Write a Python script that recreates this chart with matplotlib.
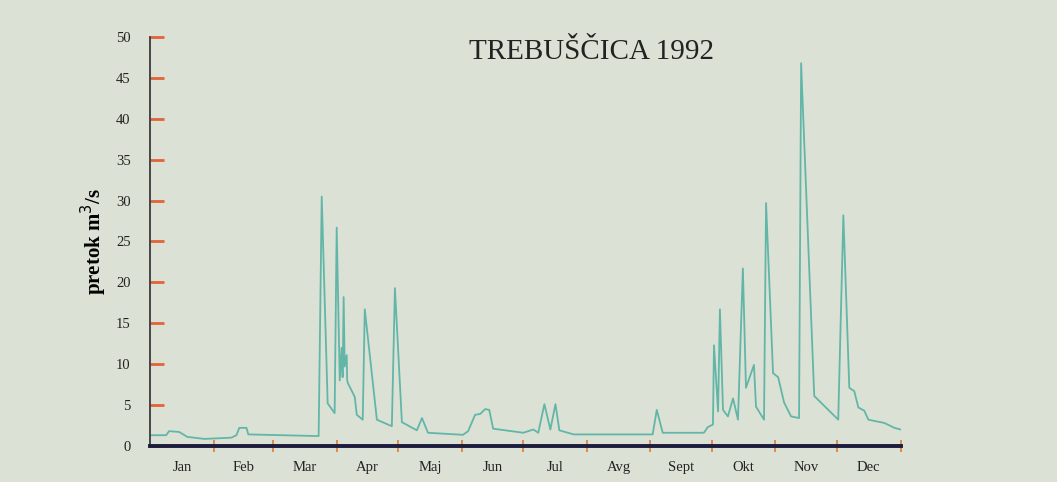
import matplotlib
matplotlib.use('Agg')
import matplotlib.pyplot as plt
import numpy as np

# daily flow (day of year, m3/s)
days = [0, 7.8, 9.3, 14.2, 18.1, 26.4, 39.6, 42.1, 43.5, 47.0, 47.9, 81.2, 82.2,
        83.7, 86.6, 90.0, 91.0, 92.5, 93.4, 93.9, 94.4, 94.9, 95.9, 96.1, 96.4,
        99.8, 100.8, 103.7, 104.7, 110.6, 117.9, 119.4, 122.8, 130.1, 132.6, 135.5,
        152.6, 155.1, 158.5, 161.0, 163.4, 165.4, 167.3, 182.0, 186.9, 189.3, 192.3,
        195.2, 197.7, 199.6, 206.5, 245.1, 247.1, 250.0, 270.1, 272.0, 274.5, 275.0,
        277.0, 277.9, 279.4, 281.8, 284.3, 286.7, 289.1, 290.6, 294.5, 295.5, 299.4,
        300.4, 303.8, 306.3, 309.2, 312.6, 316.5, 317.5, 323.9, 335.6, 338.1, 341.0,
        343.4, 345.4, 348.3, 350.3, 358.1, 363.0, 366.0]
flow = [1.3, 1.3, 1.8, 1.7, 1.1, 0.85, 1.0, 1.3, 2.2, 2.2, 1.4, 1.2, 1.2,
        30.5, 5.2, 4.0, 26.7, 8.0, 12.0, 8.4, 18.2, 9.7, 11.1, 8.1, 7.7,
        6.0, 3.8, 3.2, 16.7, 3.2, 2.4, 19.3, 2.9, 1.9, 3.4, 1.6,
        1.35, 1.8, 3.8, 3.9, 4.5, 4.4, 2.1, 1.6, 2.0, 1.6, 5.1,
        2.0, 5.1, 1.9, 1.4, 1.4, 4.4, 1.6, 1.6, 2.3, 2.6, 12.3,
        4.2, 16.7, 4.4, 3.6, 5.8, 3.2, 21.7, 7.1, 9.9, 4.8, 3.2,
        29.7, 8.9, 8.4, 5.3, 3.6, 3.4, 46.8, 6.1, 3.2, 28.2, 7.1,
        6.7, 4.7, 4.3, 3.2, 2.8, 2.2, 2.0]

months = ["Jan", "Feb", "Mar", "Apr", "Maj", "Jun", "Jul", "Avg", "Sept", "Okt", "Nov", "Dec"]
month_len = [31, 29, 31, 30, 31, 30, 31, 31, 30, 31, 30, 31]

month_end = np.cumsum(month_len)
month_mid = month_end - np.array(month_len) / 2

plt.rcParams['font.family'] = ['Liberation Serif', 'DejaVu Serif']

fig = plt.figure(figsize=(10.57, 4.82), dpi=100, facecolor='#dce1d5')
ax = fig.add_axes([0.142, 0.075, 0.710, 0.848])
ax.set_facecolor('none')

ax.plot(days, flow, color='#62b6a8', lw=1.3)

ax.set_xlim(0, 366)
ax.set_ylim(0, 50)

for s in ['top', 'right']:
    ax.spines[s].set_visible(False)
ax.spines['left'].set_color('#3a3a3a')
ax.spines['left'].set_linewidth(1.3)
ax.spines['bottom'].set_color('#1c1c3c')
ax.spines['bottom'].set_linewidth(2.8)

ax.set_yticks(np.arange(0, 51, 5))
ax.tick_params(axis='y', direction='in', length=10, width=2, color='#e2623a',
               pad=14, labelsize=10.5, labelcolor='#222222')
ax.set_xticks(month_end)
ax.set_xticklabels([])
ax.tick_params(axis='x', which='major', direction='inout', length=8, width=1.2, color='#e07a3a')
ax.set_xticks(month_mid, minor=True)
ax.set_xticklabels(months, minor=True)
ax.tick_params(axis='x', which='minor', length=0, pad=11, labelsize=10.5, labelcolor='#222222')

ax.set_ylabel("pretok m$^3$/s", fontsize=15, fontweight='bold', labelpad=5)
ax.text(0.588, 0.995, "TREBUŠČICA 1992", transform=ax.transAxes, ha='center', va='top',
        fontsize=21, color='#222222')

plt.savefig("out.png", dpi=100, facecolor=fig.get_facecolor())
